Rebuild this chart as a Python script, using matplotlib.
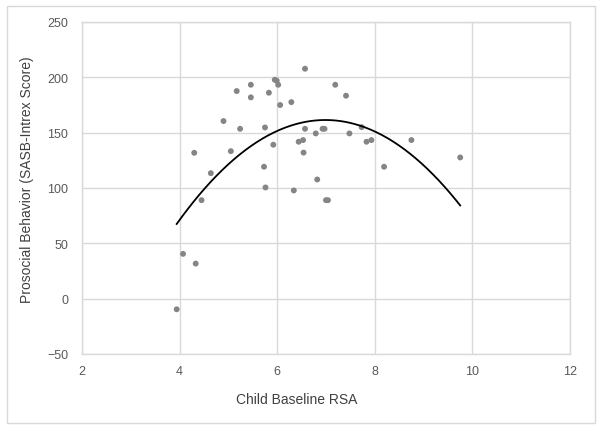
import numpy as np
import matplotlib
matplotlib.use("Agg")
import matplotlib.pyplot as plt
from matplotlib.patches import Rectangle

# Data
rsa = [3.94, 4.07, 4.33, 4.30, 4.45, 4.64, 4.90, 5.05, 5.17, 5.24,
       5.46, 5.46, 5.73, 5.75, 5.76, 5.83, 5.92, 5.95, 5.99, 6.02,
       6.06, 6.29, 6.34, 6.44, 6.53, 6.54, 6.57, 6.57, 6.79, 6.82,
       6.93, 6.97, 7.00, 7.04, 7.19, 7.41, 7.48, 7.73, 7.83, 7.93,
       8.19, 8.75, 9.75]
prosocial = [-9.6, 40.5, 31.7, 131.8, 89.0, 113.4, 160.5, 133.3, 187.6, 153.5,
             193.3, 181.9, 119.2, 154.7, 100.5, 186.1, 139.1, 197.8, 197.0, 193.3,
             175.0, 177.6, 97.8, 141.8, 143.3, 132.0, 207.8, 153.5, 149.3, 107.7,
             153.5, 153.5, 89.0, 89.0, 193.3, 183.4, 149.3, 155.0, 141.8, 143.3,
             119.2, 143.3, 127.6]
xticks = [2, 4, 6, 8, 10, 12]
yticks = [-50, 0, 50, 100, 150, 200, 250]

plt.rcParams['font.family'] = ['Liberation Sans Narrow', 'Liberation Sans', 'DejaVu Sans']

fig = plt.figure(figsize=(6.02, 4.31), dpi=100)
ax = fig.add_axes([82/602, 1-355/431, (570-82)/602, (355-23)/431])

grid_c = '#d9d9d9'
ax.set_xlim(2, 12)
ax.set_ylim(-50, 250)
ax.set_xticks(xticks)
ax.set_yticks(yticks)
ax.grid(True, color=grid_c, linewidth=1.0)
ax.set_axisbelow(True)
for s in ax.spines.values():
    s.set_color(grid_c)
    s.set_linewidth(1.0)
ax.tick_params(length=0, labelsize=9, labelcolor='#595959')
ax.tick_params(axis='y', pad=10)
ax.tick_params(axis='x', pad=8)

ax.scatter(rsa, prosocial, s=18, color='#858585', edgecolors='none', zorder=3)

coef = np.polyfit(rsa, prosocial, 2)
xs = np.linspace(min(rsa), max(rsa), 200)
ax.plot(xs, np.polyval(coef, xs), color='black', linewidth=1.3, zorder=4)

fig.text(297/602, 1-400/431, 'Child Baseline RSA', ha='center', va='center',
         fontsize=10, color='#404040')
fig.text(27/602, 1-180/431, 'Prosocial Behavior (SASB-Intrex Score)', ha='center',
         va='center', rotation=90, fontsize=10, color='#404040')

fig.patches.append(Rectangle((7/602, 7/431), 588/602, 417/431, transform=fig.transFigure,
                             fill=False, edgecolor='#d9d9d9', linewidth=1.0))

fig.savefig('out.png', dpi=100)
